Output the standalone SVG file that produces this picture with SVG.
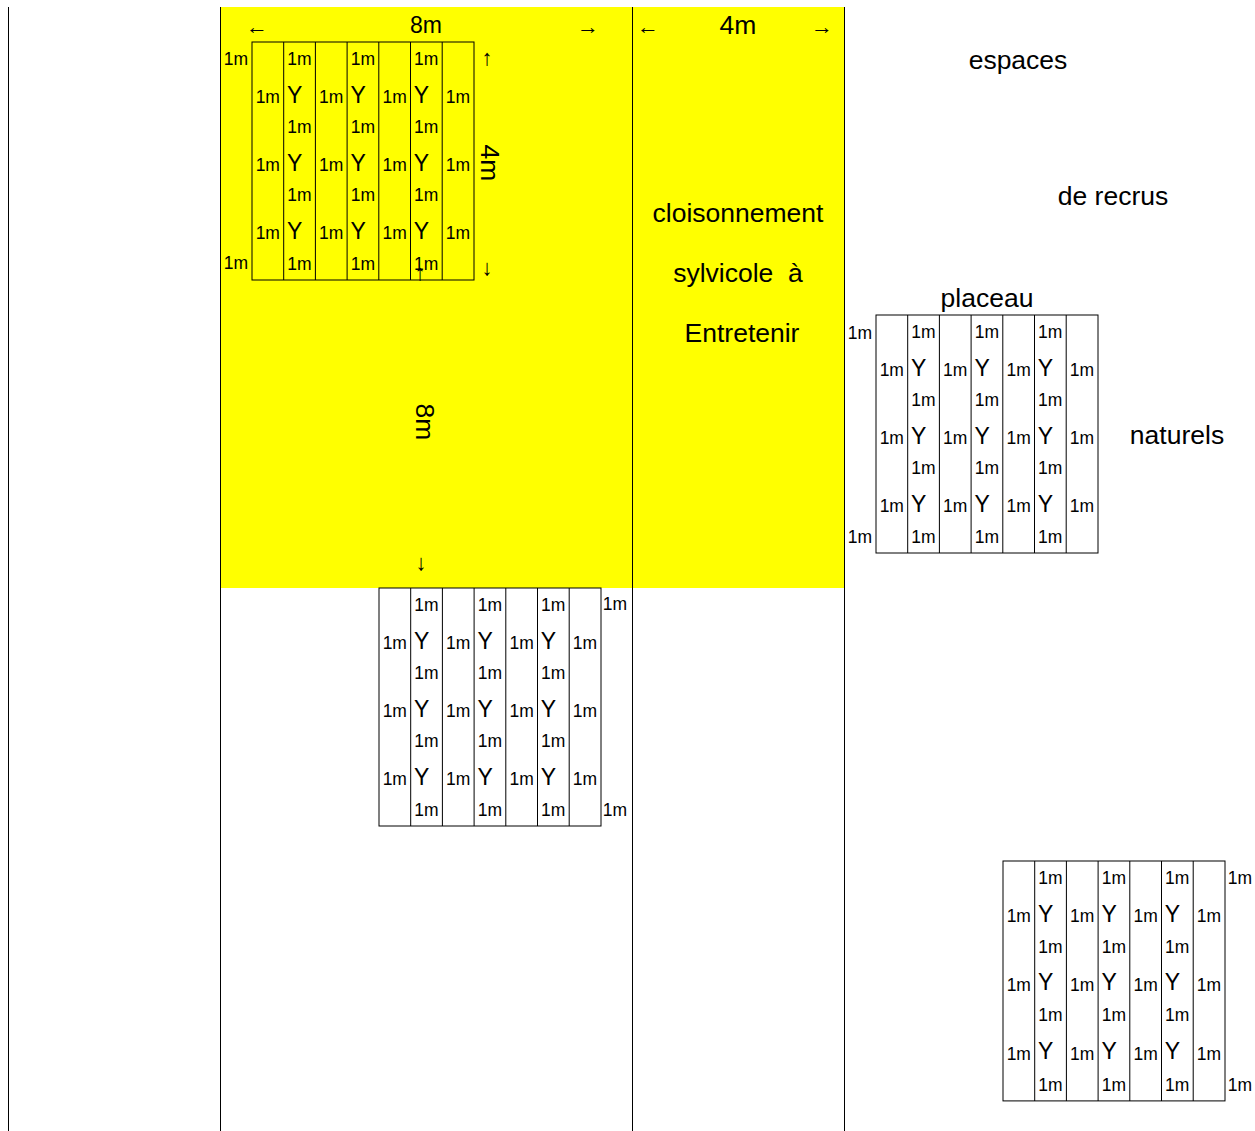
<svg xmlns="http://www.w3.org/2000/svg" width="1255" height="1131" viewBox="0 0 1255 1131">
<defs>
<style>
text{font-family:"Liberation Sans",Arial,sans-serif;fill:#000;dominant-baseline:central;text-anchor:middle}
.s{font-size:17.5px}
.y{font-size:23px}
.b{font-size:26.5px}
.a{font-size:22px}
.ln{stroke:#000;stroke-width:1;fill:none}
</style>
<g id="gridbase">
<rect class="ln" x="0" y="0" width="222" height="238"/>
<path class="ln" d="M31.7 0V238M63.4 0V238M95.1 0V238M126.8 0V238M158.5 0V238M190.2 0V238"/>
<g class="s">
<text x="47.5" y="17">1m</text><text x="110.9" y="17">1m</text><text x="174.2" y="17">1m</text>
<text x="15.8" y="55">1m</text><text x="79.2" y="55">1m</text><text x="142.6" y="55">1m</text><text x="206" y="55">1m</text>
<text x="47.5" y="85">1m</text><text x="110.9" y="85">1m</text><text x="174.2" y="85">1m</text>
<text x="15.8" y="123">1m</text><text x="79.2" y="123">1m</text><text x="142.6" y="123">1m</text><text x="206" y="123">1m</text>
<text x="47.5" y="153">1m</text><text x="110.9" y="153">1m</text><text x="174.2" y="153">1m</text>
<text x="15.8" y="191">1m</text><text x="79.2" y="191">1m</text><text x="142.6" y="191">1m</text><text x="206" y="191">1m</text>
<text x="47.5" y="222">1m</text><text x="110.9" y="222">1m</text><text x="174.2" y="222">1m</text>
</g>
<g class="y">
<text x="42.7" y="52.5">Y</text><text x="106.1" y="52.5">Y</text><text x="169.5" y="52.5">Y</text>
<text x="42.7" y="120.5">Y</text><text x="106.1" y="120.5">Y</text><text x="169.5" y="120.5">Y</text>
<text x="42.7" y="188.5">Y</text><text x="106.1" y="188.5">Y</text><text x="169.5" y="188.5">Y</text>
</g>
</g>
</defs>
<rect id="yellow" x="220" y="7" width="624" height="581" fill="#ffff00"/>
<g id="connectors">
<path class="ln" d="M8.5 7V1131M220.5 7V1131M632.5 7V1131M844.5 7V1131"/>
</g>
<g id="labels">
<text class="a" x="257" y="26">←</text>
<text x="426" y="25" style="font-size:23px">8m</text>
<text class="a" x="588" y="26">→</text>
<text class="a" x="648" y="26">←</text>
<text class="b" x="738" y="25">4m</text>
<text class="a" x="822" y="26">→</text>
<text class="b" x="490" y="163" transform="rotate(90 490 163)">4m</text>
<text class="b" x="425" y="422" transform="rotate(90 425 422)">8m</text>
<text class="a" x="487" y="57">↑</text>
<text class="a" x="487" y="267">↓</text>
<text class="a" x="421" y="562">↓</text>
<text class="a" x="420" y="272">↑</text>
<text class="b" x="738" y="213">cloisonnement</text>
<text class="b" x="738" y="273" style="white-space:pre">sylvicole  à</text>
<text class="b" x="742" y="333">Entretenir</text>
<text class="b" x="1018" y="60">espaces</text>
<text class="b" x="1113" y="196">de recrus</text>
<text class="b" x="987" y="298">placeau</text>
<text class="b" x="1177" y="435">naturels</text>
</g>
<g id="grid-top" transform="translate(252 42)">
<use href="#gridbase"/>
<text class="s" x="-16" y="17">1m</text>
<text class="s" x="-16" y="221">1m</text>
</g>
<g id="grid-right" transform="translate(876 315)">
<use href="#gridbase"/>
<text class="s" x="-16" y="18">1m</text>
<text class="s" x="-16" y="222">1m</text>
</g>
<g id="grid-middle" transform="translate(379 588)">
<use href="#gridbase"/>
<text class="s" x="236" y="16">1m</text>
<text class="s" x="236" y="222">1m</text>
</g>
<g id="grid-bottom" transform="translate(1003 861) scale(1 1.008)">
<use href="#gridbase"/>
<text class="s" x="237" y="17">1m</text>
<text class="s" x="237" y="222">1m</text>
</g>
</svg>
